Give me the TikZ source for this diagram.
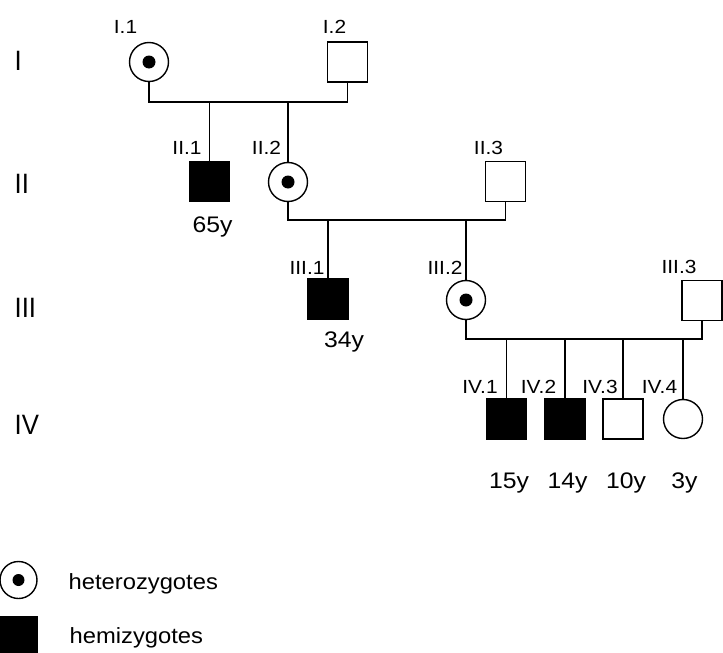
\documentclass[tikz,border=0pt]{standalone}
\usepackage{fontspec}
\setmainfont{Liberation Sans}
\newfontfamily\labfont{Liberation Sans}[FakeStretch=1.1]
\newfontfamily\agefont{Liberation Sans}[FakeStretch=1.1]
\newfontfamily\genfont{Liberation Sans}[FakeStretch=0.92]
\newfontfamily\legfont{Liberation Sans}[FakeStretch=1.08]
\begin{document}
\begin{tikzpicture}[x=1pt,y=-1pt,
  line width=1.3pt,
  male/.style={draw,line width=1.4pt,rectangle,minimum width=40pt,minimum height=40pt,inner sep=0pt},
  affected/.style={male,fill=black},
  female/.style={draw,line width=1.4pt,circle,minimum size=39pt,inner sep=0pt},
  carrier/.style={female,path picture={\fill[black] (path picture bounding box.center) circle (6.5pt);}},
  lab/.style={anchor=base,inner sep=0pt,font={\labfont\fontsize{19}{21}\selectfont}},
  age/.style={anchor=base,inner sep=0pt,font={\agefont\fontsize{22.5}{24}\selectfont}},
  gen/.style={anchor=base west,inner sep=0pt,font={\genfont\fontsize{28}{30}\selectfont}},
  leg/.style={anchor=base west,inner sep=0pt,font={\legfont\fontsize{22}{24}\selectfont}}
]
\useasboundingbox (0,0) rectangle (723,653);

% generation numerals
\node[gen] (gI) at (14,70) {I};
\node[gen] (gII) at (14,193) {II};
\node[gen] (gIII) at (14,317) {III};
\node[gen] (gIV) at (14,434) {IV};

% generation I
\node[carrier] (I1) at (149,62) {};
\node[male] (I2) at (347.5,62) {};
\node[lab] (lI1) at (125.5,33) {I.1};
\node[lab] (lI2) at (334.5,33) {I.2};

% generation II
\node[affected] (II1) at (209.5,181.5) {};
\node[carrier] (II2) at (288,182) {};
\node[male] (II3) at (505.5,181.5) {};
\node[lab] (lII1) at (187,154) {II.1};
\node[lab] (lII2) at (266.5,154) {II.2};
\node[lab] (lII3) at (488.5,154) {II.3};
\node[age] (aII1) at (212.5,232) {65y};

% generation III
\node[affected] (III1) at (328,299) {};
\node[carrier] (III2) at (466,300) {};
\node[male] (III3) at (702,300.5) {};
\node[lab] (lIII1) at (307,274) {III.1};
\node[lab] (lIII2) at (445,274) {III.2};
\node[lab] (lIII3) at (679,273) {III.3};
\node[age] (aIII1) at (344,347) {34y};

% generation IV
\node[affected] (IV1) at (506.5,419) {};
\node[affected] (IV2) at (565,419) {};
\node[male] (IV3) at (623,419) {};
\node[female] (IV4) at (683,419) {};
\node[lab] (lIV1) at (480,393) {IV.1};
\node[lab] (lIV2) at (538.5,393) {IV.2};
\node[lab] (lIV3) at (600,393) {IV.3};
\node[lab] (lIV4) at (659.5,393) {IV.4};
\node[age] (aIV1) at (509,488) {15y};
\node[age] (aIV2) at (567.5,488) {14y};
\node[age] (aIV3) at (626,488) {10y};
\node[age] (aIV4) at (684.5,488) {3y};

% marriage lines
\coordinate (m1) at (0,102);
\coordinate (m2) at (0,220);
\coordinate (m3) at (0,339);
\draw (I1.south) -- (I1.south |- m1) -- (I2.south |- m1) -- (I2.south);
\draw (II1.north) -- (II1.north |- m1);
\draw (II2.north) -- (II2.north |- m1);
\draw (II2.south) -- (II2.south |- m2) -- (II3.south |- m2) -- (II3.south);
\draw (III1.north) -- (III1.north |- m2);
\draw (III2.north) -- (III2.north |- m2);
\draw (III2.south) -- (III2.south |- m3) -- (III3.south |- m3) -- (III3.south);
\draw (IV1.north) -- (IV1.north |- m3);
\draw (IV2.north) -- (IV2.north |- m3);
\draw (IV3.north) -- (IV3.north |- m3);
\draw (IV4.north) -- (IV4.north |- m3);

% legend
\node[female,minimum size=37pt,path picture={\fill[black] (path picture bounding box.center) circle (6pt);}] (Lhet) at (18.5,580) {};
\node[affected,minimum width=37pt,minimum height=40pt] (Lhem) at (18.5,637) {};
\node[leg] (tHet) at (68,589) {heterozygotes};
\node[leg] (tHem) at (69,643) {hemizygotes};
\end{tikzpicture}
\end{document}
